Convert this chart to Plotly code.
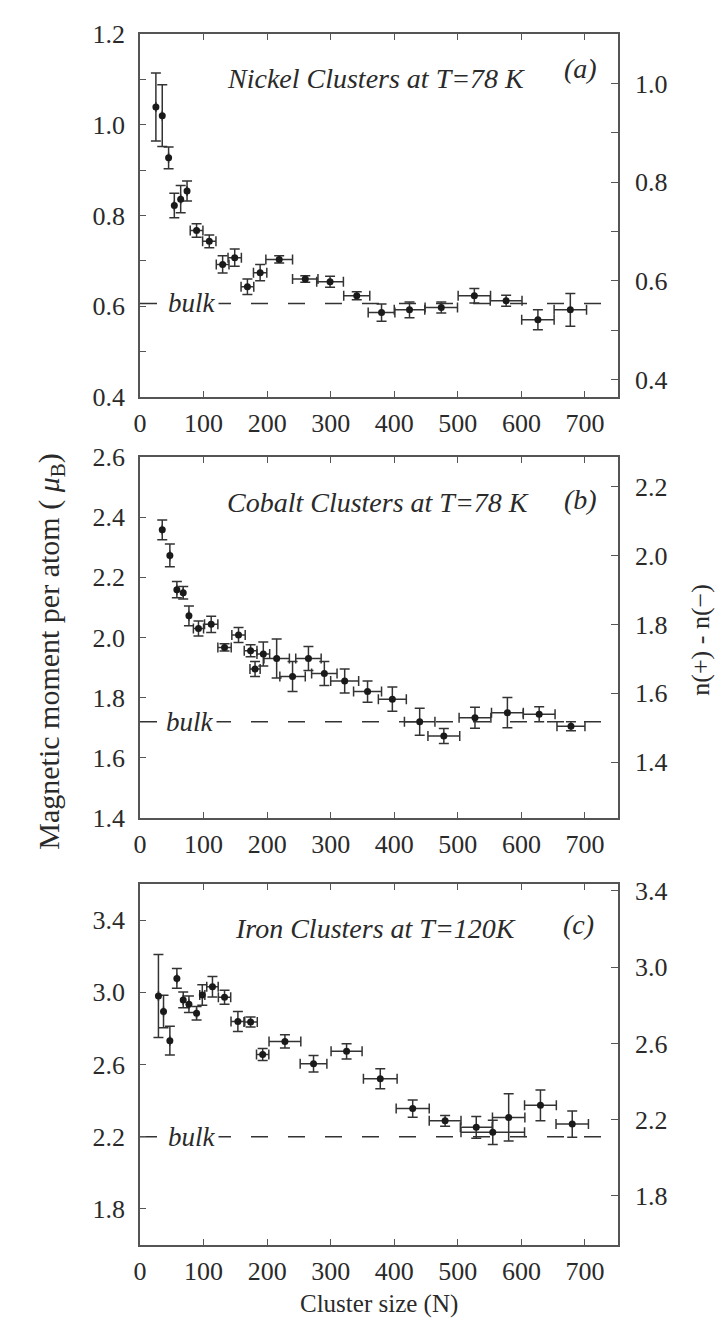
import plotly.graph_objects as go

# ---------------- data ----------------
N_MAX = 752
x_ticks = [0, 100, 200, 300, 400, 500, 600, 700]

# (a) Nickel, T = 78 K
ni_n = [25, 35, 45, 54, 64, 74, 89, 109, 130, 149, 169, 189, 219, 260, 299, 341, 380, 424, 474, 526, 576, 626, 677]
ni_mu = [1.039, 1.020, 0.927, 0.822, 0.836, 0.854, 0.767, 0.743, 0.692, 0.707, 0.643, 0.674, 0.703, 0.660,
         0.654, 0.623, 0.586, 0.592, 0.597, 0.623, 0.612, 0.570, 0.592]
ni_dmu = [0.075, 0.068, 0.024, 0.027, 0.030, 0.022, 0.015, 0.014, 0.019, 0.019, 0.017, 0.018, 0.008, 0.007,
          0.012, 0.009, 0.019, 0.0175, 0.012, 0.016, 0.012, 0.022, 0.036]
ni_dn = [0, 0, 0, 0, 0, 0, 10, 10.5, 10, 10.5, 10, 10.5, 21, 20, 21, 20.5, 21, 24, 25.5, 25.5, 25, 25.5, 25.5]

# (b) Cobalt, T = 78 K
co_n = [35, 47, 58, 68, 77, 92, 112, 133, 155, 174, 181, 194, 215, 240, 265, 290, 322, 358, 397, 440, 478,
        527, 578, 628, 678]
co_mu = [2.358, 2.273, 2.159, 2.149, 2.072, 2.030, 2.044, 1.967, 2.008, 1.956, 1.895, 1.945, 1.930, 1.870,
         1.930, 1.880, 1.855, 1.820, 1.795, 1.720, 1.672, 1.733, 1.750, 1.745, 1.705]
co_dmu = [0.033, 0.038, 0.027, 0.021, 0.033, 0.025, 0.027, 0.012, 0.025, 0.020, 0.025, 0.040, 0.065, 0.050,
          0.040, 0.040, 0.040, 0.035, 0.040, 0.045, 0.025, 0.035, 0.050, 0.025, 0.015]
co_dn = [0, 0, 0, 0, 0, 8, 10.5, 10.5, 10.5, 10, 8, 10, 20, 20, 20, 20, 22, 22, 22, 24, 25, 25, 25, 25, 22]

# (c) Iron, T = 120 K
fe_n = [29, 37, 47, 58, 68, 77, 89, 98, 114, 133, 154, 174, 193, 228, 273, 325, 378, 429, 480, 529, 555,
        580, 630, 680]
fe_mu = [2.980, 2.893, 2.732, 3.077, 2.958, 2.934, 2.884, 2.985, 3.031, 2.973, 2.838, 2.835, 2.655, 2.728,
         2.604, 2.673, 2.521, 2.356, 2.288, 2.252, 2.224, 2.307, 2.374, 2.270]
fe_dmu = [0.23, 0.09, 0.08, 0.055, 0.043, 0.046, 0.037, 0.057, 0.057, 0.039, 0.055, 0.0275, 0.033, 0.037,
          0.046, 0.042, 0.055, 0.048, 0.030, 0.060, 0.067, 0.131, 0.085, 0.073]
fe_dn = [0, 0, 0, 0, 0, 0, 0, 4, 9, 9.7, 10.8, 10.5, 9.7, 25, 21, 24.4, 26.5, 26, 25, 25, 50, 25.5, 25, 25.5]

bulk = [0.606, 1.72, 2.2]
panel_titles = ["Nickel Clusters at T=78 K", "Cobalt Clusters at T=78 K", "Iron Clusters at T=120K"]
panel_tags = ["(a)", "(b)", "(c)"]
title_pos = [(372, 1.1015), (375, 2.449), (370, 3.354)]
tag_pos = [(693, 1.123), (693, 2.459), (690, 3.376)]
bulk_label_x = [82, 78, 82]

left_ranges = [[0.4, 1.2], [1.4, 2.6], [1.6, 3.6]]
left_ticks = [[0.4, 0.6, 0.8, 1.0, 1.2], [1.4, 1.6, 1.8, 2.0, 2.2, 2.4, 2.6], [1.8, 2.2, 2.6, 3.0, 3.4]]
left_minor = [0.1, None, None]
right_ranges = [[0.365, 1.1005], [1.2386, 2.2856], [1.543, 3.436]]
right_ticks = [[0.4, 0.6, 0.8, 1.0], [1.4, 1.6, 1.8, 2.0, 2.2], [1.8, 2.2, 2.6, 3.0, 3.4]]
right_minor = [0.1, None, None]

series = [(ni_n, ni_mu, ni_dn, ni_dmu), (co_n, co_mu, co_dn, co_dmu), (fe_n, fe_mu, fe_dn, fe_dmu)]
domains = [[0.7003, 1.0], [0.3527, 0.6506], [0.0, 0.2981]]

# ---------------- style ----------------
FONT = "Liberation Serif, Times New Roman, serif"
AX = "#555555"
TXT = "#2a2a2a"
MK = "#1a1a1a"
EB = "#333333"

fig = go.Figure()
layout = dict(
    width=723, height=1319, autosize=False,
    margin=dict(l=132, r=113, t=17, b=82),
    paper_bgcolor="white", plot_bgcolor="white",
    showlegend=False,
    font=dict(family=FONT, size=26, color=TXT),
)
annotations = []

for i in range(3):
    xs = "" if i == 0 else str(i + 1)
    yl = str(2 * i + 1) if i > 0 else ""
    yr = str(2 * i + 2)
    xref = "x" + xs
    ylref = "y" + yl
    yrref = "y" + yr
    n, mu, dn, dmu = series[i]

    # bulk reference level (dashed)
    fig.add_trace(go.Scatter(
        x=[0, N_MAX], y=[bulk[i], bulk[i]], mode="lines",
        line=dict(color="#333333", width=1.6, dash="17px,20px"),
        xaxis=xref, yaxis=ylref, hoverinfo="skip"))

    # measured moments with error bars
    fig.add_trace(go.Scatter(
        x=n, y=mu, mode="markers",
        marker=dict(size=7, color=MK),
        error_y=dict(type="data", array=dmu, visible=True, color=EB, thickness=1.5, width=5),
        error_x=dict(type="data", array=dn, visible=True, color=EB, thickness=1.5, width=5),
        xaxis=xref, yaxis=ylref))

    # empty trace that activates the right-hand axis
    fig.add_trace(go.Scatter(x=[None], y=[None], xaxis=xref, yaxis=yrref, hoverinfo="skip"))

    layout["xaxis" + xs] = dict(
        domain=[0, 1], anchor=ylref, range=[0, N_MAX],
        tickvals=x_ticks, ticks="inside", ticklen=6, tickwidth=1.3, tickcolor=AX,
        showline=True, linecolor=AX, linewidth=1.5, mirror="ticks",
        showgrid=False, zeroline=False,
        tickfont=dict(family=FONT, size=26, color=TXT),
        ticklabelstandoff=2,
    )
    ly = dict(
        domain=domains[i], anchor=xref, range=left_ranges[i],
        tickvals=left_ticks[i], tickformat=".1f",
        ticks="inside", ticklen=6, tickwidth=1.3, tickcolor=AX,
        showline=True, linecolor=AX, linewidth=1.5, mirror=False,
        showgrid=False, zeroline=False,
        tickfont=dict(family=FONT, size=26, color=TXT),
        ticklabelstandoff=8,
    )
    if left_minor[i]:
        ly["minor"] = dict(dtick=left_minor[i], tick0=0, ticks="inside", ticklen=6, tickcolor=AX, tickwidth=1.3)
    layout["yaxis" + yl] = ly
    ry = dict(
        overlaying=ylref, side="right", anchor=xref, range=right_ranges[i],
        tickvals=right_ticks[i], tickformat=".1f",
        ticks="inside", ticklen=7, tickwidth=1.3, tickcolor=AX,
        showline=True, linecolor=AX, linewidth=1.5,
        showgrid=False, zeroline=False,
        tickfont=dict(family=FONT, size=26, color=TXT),
        ticklabelstandoff=10,
    )
    if right_minor[i]:
        ry["minor"] = dict(dtick=right_minor[i], tick0=0, ticks="inside", ticklen=7, tickcolor=AX, tickwidth=1.3)
    layout["yaxis" + yr] = ry

    annotations.append(dict(
        x=title_pos[i][0], y=title_pos[i][1], xref=xref, yref=ylref,
        text="<i>" + panel_titles[i] + "</i>", showarrow=False,
        font=dict(family=FONT, size=28, color=TXT), xanchor="center", yanchor="middle"))
    annotations.append(dict(
        x=tag_pos[i][0], y=tag_pos[i][1], xref=xref, yref=ylref,
        text="<i>" + panel_tags[i] + "</i>", showarrow=False,
        font=dict(family=FONT, size=28, color=TXT), xanchor="center", yanchor="middle"))
    annotations.append(dict(
        x=bulk_label_x[i], y=bulk[i], xref=xref, yref=ylref,
        text="<i>bulk</i>", showarrow=False, bgcolor="white", borderpad=2,
        font=dict(family=FONT, size=27, color=TXT), xanchor="center", yanchor="middle"))

# axis titles
annotations.append(dict(
    x=-0.188, y=0.49, xref="paper", yref="paper",
    text="Magnetic moment per atom ( <i>μ</i><sub>B</sub>)", textangle=-90, showarrow=False,
    font=dict(family=FONT, size=30, color=TXT), xanchor="center", yanchor="middle"))
annotations.append(dict(
    x=1.172, y=0.5, xref="paper", yref="paper",
    text="n(+) - n(−)", textangle=-90, showarrow=False,
    font=dict(family=FONT, size=26, color=TXT), xanchor="center", yanchor="middle"))
annotations.append(dict(
    x=0.5, y=-0.0484, xref="paper", yref="paper",
    text="Cluster size (N)", showarrow=False,
    font=dict(family=FONT, size=25, color=TXT), xanchor="center", yanchor="middle"))

layout["annotations"] = annotations
fig.update_layout(**layout)
fig.write_html("out.html")
